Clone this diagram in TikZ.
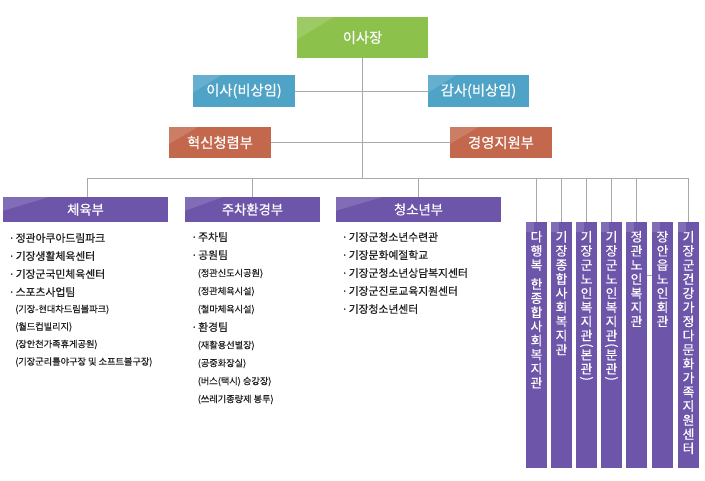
\documentclass[tikz,border=0pt]{standalone}
\usepackage{fontspec}
\usepackage{graphicx}
\setmainfont{Noto Sans CJK KR}
\newfontfamily\krmed{Noto Sans CJK KR}[FakeBold=0.7]
\newfontfamily\krsub{Noto Sans CJK KR}[FakeBold=0.5]
\newfontfamily\krwhite{Noto Sans CJK KR}[FakeBold=0.4]
\usetikzlibrary{positioning,calc}
\definecolor{greenbox}{HTML}{8CC24C}
\definecolor{bluebox}{HTML}{4FA3C6}
\definecolor{redbox}{HTML}{C4684D}
\definecolor{purpbox}{HTML}{6D56A9}
\definecolor{linegray}{HTML}{AAAAAA}
\definecolor{txtcol}{HTML}{222222}
\newcommand{\bul}{\makebox[7pt][l]{·}}
\newcommand{\rparo}{\rotatebox[origin=c]{-90}{(}}
\newcommand{\rparc}{\rotatebox[origin=c]{-90}{)}}
\begin{document}
\begin{tikzpicture}[x=1pt,y=-1pt,
  gloss/.style={path picture={
    \fill[white,opacity=0.14] (path picture bounding box.north west) --
      ($(path picture bounding box.north west)!0.28!(path picture bounding box.north east)$) --
      ($(path picture bounding box.north west)!0.55!(path picture bounding box.south west)$) -- cycle;}},
  box/.style={draw=none, inner sep=0pt, text=white, gloss, font=\krwhite\fontsize{14.3}{16}\selectfont},
  dept/.style={box, fill=purpbox, minimum height=25pt, font=\krwhite\fontsize{13.3}{15}\selectfont},
  vcol/.style={draw=none, fill=purpbox, inner sep=0pt, minimum width=21pt, minimum height=246pt,
    path picture={\fill[white,opacity=0.14] (path picture bounding box.north west) rectangle ++(8pt,-10pt);}},
  vtxt/.style={inner sep=0pt, text=white, align=center, font=\krwhite\fontsize{12.8}{14.1}\selectfont},
  conn/.style={draw=linegray, line width=0.9pt},
  item/.style={anchor=west, inner sep=0pt, text=txtcol, font=\krmed\fontsize{10.8}{12}\selectfont},
  subitem/.style={anchor=west, inner sep=0pt, text=txtcol, font=\krsub\fontsize{9.2}{10}\selectfont}]
\useasboundingbox (0,0) rectangle (705,480);

% top boxes
\node[box, fill=greenbox, minimum width=131pt, minimum height=41pt] (ceo) at (362.5,37.5) {이사장};
\node[box, fill=bluebox, minimum width=102pt, minimum height=32pt] (dir) at (244,91) {이사(비상임)};
\node[box, fill=bluebox, minimum width=101pt, minimum height=32pt] (aud) at (478.5,91) {감사(비상임)};
\node[box, fill=redbox, minimum width=102pt, minimum height=31pt] (inno) at (220,142.5) {혁신청렴부};
\node[box, fill=redbox, minimum width=102pt, minimum height=31pt] (mgmt) at (501,142.5) {경영지원부};

% departments
\node[dept, minimum width=165pt] (sport) at (85.5,209.5) {체육부};
\node[dept, minimum width=135pt] (park) at (252.5,209.5) {주차환경부};
\node[dept, minimum width=165pt] (youth) at (418.5,209.5) {청소년부};

% vertical columns
\node[vcol] (c1) at (536.5,345) {};
\node[vcol] (c2) at (561.5,345) {};
\node[vcol] (c3) at (586.5,345) {};
\node[vcol] (c4) at (611.5,345) {};
\node[vcol] (c5) at (636.5,345) {};
\node[vcol] (c6) at (662.5,345) {};
\node[vcol] (c7) at (688.5,345) {};

\node[vtxt, below=9pt of c1.north] (t1) {다\\행\\복\\[5pt]한\\종\\합\\사\\회\\복\\지\\관};
\node[vtxt, below=9pt of c2.north] (t2) {기\\장\\종\\합\\사\\회\\복\\지\\관};
\node[vtxt, below=9pt of c3.north] (t3) {기\\장\\군\\노\\인\\복\\지\\관\\[-5pt]\rparo\\[-4pt]본\\관\\[-5pt]\rparc};
\node[vtxt, below=9pt of c4.north] (t4) {기\\장\\군\\노\\인\\복\\지\\관\\[-5pt]\rparo\\[-4pt]분\\관\\[-5pt]\rparc};
\node[vtxt, below=9pt of c5.north] (t5) {정\\관\\노\\인\\복\\지\\관};
\node[vtxt, below=9pt of c6.north] (t6) {장\\안\\읍\\노\\인\\회\\관};
\node[vtxt, below=9pt of c7.north] (t7) {기\\장\\군\\건\\강\\가\\정\\다\\문\\화\\가\\족\\지\\원\\센\\터};

% connectors
\coordinate (hub) at (362.5,178.5);
\coordinate (busL) at (87,178.5);
\coordinate (busR) at (688.5,178.5);
\draw[conn] (ceo.south) -- (hub);
\draw[conn] (dir.east) -- (aud.west);
\draw[conn] (inno.east) -- (mgmt.west);
\draw[conn] (busL) -- (busR);
\draw[conn] (busL) -- (sport.north -| busL);
\draw[conn] (park.north |- hub) -- (park.north);
\draw[conn] (youth.north |- hub) -- (youth.north);
\foreach \c in {c1,c2,c3,c4,c5,c7}{
  \draw[conn] (\c.north |- hub) -- (\c.north);
}
\draw[conn] (c5.east |- 0,275) -- (c6.west |- 0,275);

% lists
\foreach \y/\t [count=\i] in {238/{정관아쿠아드림파크},256/{기장생활체육센터},274/{기장군국민체육센터},292/{스포츠사업팀}}{
  \node[item] (sa\i) at (8.5,\y) {\bul\t};
}
\foreach \y/\t [count=\i] in {309.5/{(기장-현대차드림볼파크)},327/{(월드컵빌리지)},344.5/{(장안천가족휴게공원)},362/{(기장군리틀야구장 및 소프트볼구장)}}{
  \node[subitem] (sb\i) at (15,\y) {\t};
}
\foreach \y/\t [count=\i] in {237/{주차팀},255/{공원팀},327/{환경팀}}{
  \node[item] (pa\i) at (191,\y) {\bul\t};
}
\foreach \y/\t [count=\i] in {273.5/{(정관신도시공원)},291.5/{(정관체육시설)},309.5/{(철마체육시설)},345.5/{(재활용선별장)},363.5/{(공중화장실)},381.5/{(버스(택시) 승강장)},399.5/{(쓰레기종량제 봉투)}}{
  \node[subitem] (pb\i) at (197.5,\y) {\t};
}
\foreach \y/\t [count=\i] in {237/{기장군청소년수련관},255/{기장문화예절학교},273/{기장군청소년상담복지센터},291/{기장군진로교육지원센터},309/{기장청소년센터}}{
  \node[item] (ya\i) at (341.5,\y) {\bul\t};
}
\end{tikzpicture}
\end{document}
